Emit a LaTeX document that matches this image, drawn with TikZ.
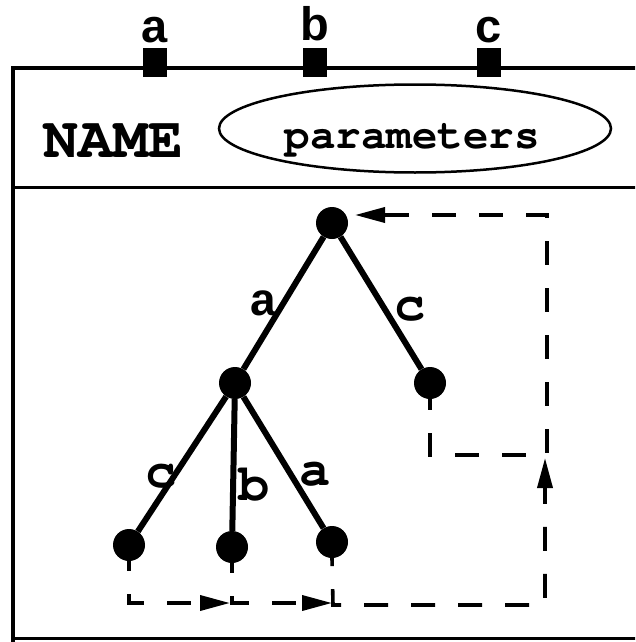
\documentclass[tikz,border=0pt]{standalone}
\usepackage{fontspec}
\usetikzlibrary{arrows.meta,shapes.geometric}
\newfontfamily\monofnt{TeX Gyre Cursor}
\newfontfamily\sansfnt{Liberation Sans}
\tikzset{
  dot/.style={circle,fill=black,draw=none,inner sep=0pt,minimum size=32pt},
  edge/.style={line width=6pt},
  port/.style={fill=black,draw=none,inner sep=0pt,minimum width=24pt,minimum height=29pt},
  portlabel/.style={anchor=base,inner sep=0pt,font=\sansfnt\bfseries\fontsize{47}{50}\selectfont},
  elabel/.style={anchor=base,inner sep=0pt,font=\monofnt\bfseries\fontsize{52}{56}\selectfont},
  flow/.style={line width=3.6pt,dash pattern=on 24pt off 23pt,-{Triangle[length=30pt,width=15pt]}},
}
\begin{document}
\begin{tikzpicture}[x=1pt,y=-1pt]
\useasboundingbox (0,0) rectangle (635,642);
\clip (0,0) rectangle (635,642);
% frame
\draw[line width=4.5pt] (650,68) -- (13,68) -- (13,660);
\draw[line width=3pt] (13,638.5) -- (650,638.5);
\draw[line width=3pt] (13,187.5) -- (650,187.5);
% ports
\node[port] (pa) at (155,62.5) {};
\node[port] (pb) at (314.5,62.5) {};
\node[port] (pc) at (489,62.5) {};
\node[portlabel] (la) at (155,42) {a};
\node[portlabel] (lb) at (314.5,41) {b};
\node[portlabel] (lc) at (489,42) {c};
% header
\node[anchor=base,inner sep=0pt,font=\monofnt\bfseries\fontsize{58}{60}\selectfont] (name) at (113.5,157) {NAME};
\node[draw,ellipse,line width=2.5pt,inner sep=0pt,minimum width=392pt,minimum height=88pt] (parell) at (415,128.5) {};
\node[anchor=base,inner sep=0pt,font=\monofnt\bfseries\fontsize{42.5}{46}\selectfont] (par) at (412,148) {parameters};
% tree
\node[dot] (root) at (332,223) {};
\node[dot] (n1) at (235,383) {};
\node[dot] (n2) at (430,383) {};
\node[dot] (l1) at (129,545) {};
\node[dot] (l2) at (232,547) {};
\node[dot] (l3) at (332,542) {};
\draw[edge] (root) -- (n1);
\draw[edge] (root) -- (n2);
\draw[edge] (n1) -- (l1);
\draw[edge] (n1) -- (l2);
\draw[edge] (n1) -- (l3);
\node[anchor=base,inner sep=0pt,font=\sansfnt\bfseries\fontsize{46}{50}\selectfont] (ea) at (263,315) {a};
\node[elabel] (ec) at (410,320) {c};
\node[elabel] (ec2) at (161,487) {c};
\node[elabel] (eb) at (254,500) {b};
\node[elabel] (ea2) at (315,485) {a};
% flow coordinates
\coordinate (b1) at (129,603);
\coordinate (b2) at (232,603);
\coordinate (b2e) at (230,603);
\coordinate (b3) at (332,603);
\coordinate (b3s) at (333,605);
\coordinate (b4) at (545,605);
\coordinate (r1) at (545,458);
\coordinate (c1) at (430,455);
\coordinate (c2) at (547,455);
\coordinate (c3) at (547,215);
\coordinate (c4) at (355,215);
\draw[flow,dash phase=14pt] (l1.south) -- (b1) -- (b2e);
\draw[flow,dash phase=14pt] (l2.south) -- (b2) -- (b3);
\draw[flow,dash phase=16pt] (l3.south) -- (b3s) -- (b4) -- (r1);
\draw[flow,dash phase=13pt] (n2.south) -- (c1) -- (c2) -- (c3) -- (c4);
\end{tikzpicture}
\end{document}
